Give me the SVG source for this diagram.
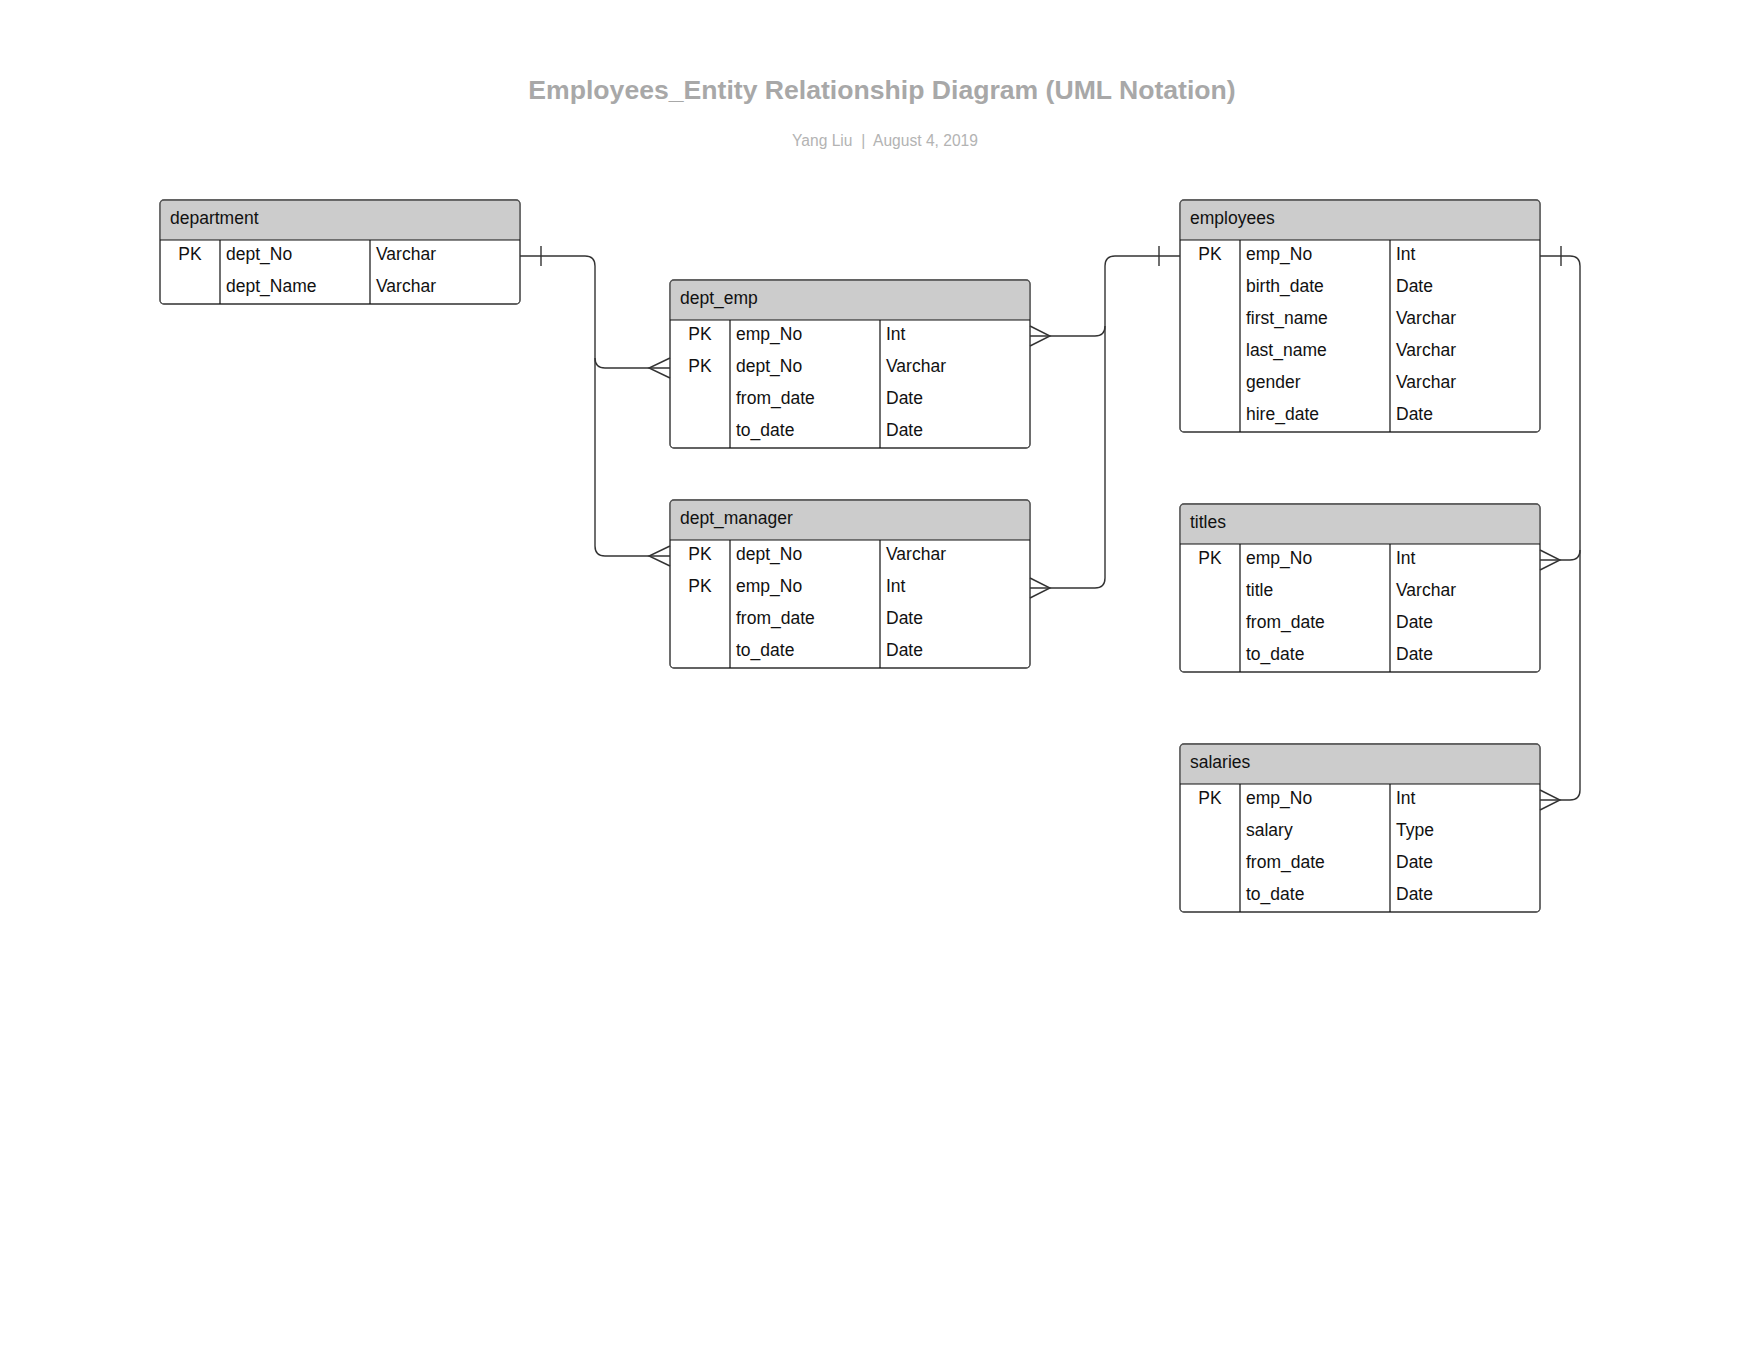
<svg xmlns="http://www.w3.org/2000/svg" width="1760" height="1360" viewBox="0 0 1760 1360">
<style>
.bg{fill:#ffffff}
.title{font-family:"Liberation Sans",Arial,sans-serif;font-size:26.6px;font-weight:bold;fill:#a8a8a8}
.sub{font-family:"Liberation Sans",Arial,sans-serif;font-size:15.6px;fill:#b3b3b3}
.body{fill:#ffffff;stroke:#5a5a5a;stroke-width:1.3}
.head{fill:#cccccc;stroke:none}
.sep{stroke:#111111;stroke-width:1.2;fill:none}
.t{font-family:"Liberation Sans",Arial,sans-serif;font-size:17.5px;fill:#111111}
.pk{text-anchor:middle}
.conn path{fill:none;stroke:#333333;stroke-width:1.4}
</style>
<rect class="bg" x="0" y="0" width="1760" height="1360"/>
<text class="title" x="882" y="99" text-anchor="middle">Employees_Entity Relationship Diagram (UML Notation)</text>
<text class="sub" x="885" y="146" text-anchor="middle" xml:space="preserve">Yang Liu  |  August 4, 2019</text>

<g id="department">
<rect class="body" x="160" y="200" width="360" height="104" rx="4"/>
<path class="head" d="M160.7,240 V204 Q160.7,200.7 164,200.7 H516 Q519.3,200.7 519.3,204 V240 Z"/>
<rect x="160" y="200" width="360" height="104" rx="4" fill="none" stroke="#5a5a5a" stroke-width="1.3"/>
<path class="sep" d="M160,240 H520 M220,240 V304 M370,240 V304"/>
<text class="t" x="170" y="224">department</text>
<text class="t pk" x="190" y="260">PK</text><text class="t" x="226" y="260">dept_No</text><text class="t" x="376" y="260">Varchar</text>
<text class="t" x="226" y="292">dept_Name</text><text class="t" x="376" y="292">Varchar</text>
</g>

<g id="dept_emp">
<rect class="body" x="670" y="280" width="360" height="168" rx="4"/>
<path class="head" d="M670.7,320 V284 Q670.7,280.7 674,280.7 H1026 Q1029.3,280.7 1029.3,284 V320 Z"/>
<rect x="670" y="280" width="360" height="168" rx="4" fill="none" stroke="#5a5a5a" stroke-width="1.3"/>
<path class="sep" d="M670,320 H1030 M730,320 V448 M880,320 V448"/>
<text class="t" x="680" y="304">dept_emp</text>
<text class="t pk" x="700" y="340">PK</text><text class="t" x="736" y="340">emp_No</text><text class="t" x="886" y="340">Int</text>
<text class="t pk" x="700" y="372">PK</text><text class="t" x="736" y="372">dept_No</text><text class="t" x="886" y="372">Varchar</text>
<text class="t" x="736" y="404">from_date</text><text class="t" x="886" y="404">Date</text>
<text class="t" x="736" y="436">to_date</text><text class="t" x="886" y="436">Date</text>
</g>

<g id="dept_manager">
<rect class="body" x="670" y="500" width="360" height="168" rx="4"/>
<path class="head" d="M670.7,540 V504 Q670.7,500.7 674,500.7 H1026 Q1029.3,500.7 1029.3,504 V540 Z"/>
<rect x="670" y="500" width="360" height="168" rx="4" fill="none" stroke="#5a5a5a" stroke-width="1.3"/>
<path class="sep" d="M670,540 H1030 M730,540 V668 M880,540 V668"/>
<text class="t" x="680" y="524">dept_manager</text>
<text class="t pk" x="700" y="560">PK</text><text class="t" x="736" y="560">dept_No</text><text class="t" x="886" y="560">Varchar</text>
<text class="t pk" x="700" y="592">PK</text><text class="t" x="736" y="592">emp_No</text><text class="t" x="886" y="592">Int</text>
<text class="t" x="736" y="624">from_date</text><text class="t" x="886" y="624">Date</text>
<text class="t" x="736" y="656">to_date</text><text class="t" x="886" y="656">Date</text>
</g>

<g id="employees">
<rect class="body" x="1180" y="200" width="360" height="232" rx="4"/>
<path class="head" d="M1180.7,240 V204 Q1180.7,200.7 1184,200.7 H1536 Q1539.3,200.7 1539.3,204 V240 Z"/>
<rect x="1180" y="200" width="360" height="232" rx="4" fill="none" stroke="#5a5a5a" stroke-width="1.3"/>
<path class="sep" d="M1180,240 H1540 M1240,240 V432 M1390,240 V432"/>
<text class="t" x="1190" y="224">employees</text>
<text class="t pk" x="1210" y="260">PK</text><text class="t" x="1246" y="260">emp_No</text><text class="t" x="1396" y="260">Int</text>
<text class="t" x="1246" y="292">birth_date</text><text class="t" x="1396" y="292">Date</text>
<text class="t" x="1246" y="324">first_name</text><text class="t" x="1396" y="324">Varchar</text>
<text class="t" x="1246" y="356">last_name</text><text class="t" x="1396" y="356">Varchar</text>
<text class="t" x="1246" y="388">gender</text><text class="t" x="1396" y="388">Varchar</text>
<text class="t" x="1246" y="420">hire_date</text><text class="t" x="1396" y="420">Date</text>
</g>

<g id="titles">
<rect class="body" x="1180" y="504" width="360" height="168" rx="4"/>
<path class="head" d="M1180.7,544 V508 Q1180.7,504.7 1184,504.7 H1536 Q1539.3,504.7 1539.3,508 V544 Z"/>
<rect x="1180" y="504" width="360" height="168" rx="4" fill="none" stroke="#5a5a5a" stroke-width="1.3"/>
<path class="sep" d="M1180,544 H1540 M1240,544 V672 M1390,544 V672"/>
<text class="t" x="1190" y="528">titles</text>
<text class="t pk" x="1210" y="564">PK</text><text class="t" x="1246" y="564">emp_No</text><text class="t" x="1396" y="564">Int</text>
<text class="t" x="1246" y="596">title</text><text class="t" x="1396" y="596">Varchar</text>
<text class="t" x="1246" y="628">from_date</text><text class="t" x="1396" y="628">Date</text>
<text class="t" x="1246" y="660">to_date</text><text class="t" x="1396" y="660">Date</text>
</g>

<g id="salaries">
<rect class="body" x="1180" y="744" width="360" height="168" rx="4"/>
<path class="head" d="M1180.7,784 V748 Q1180.7,744.7 1184,744.7 H1536 Q1539.3,744.7 1539.3,748 V784 Z"/>
<rect x="1180" y="744" width="360" height="168" rx="4" fill="none" stroke="#5a5a5a" stroke-width="1.3"/>
<path class="sep" d="M1180,784 H1540 M1240,784 V912 M1390,784 V912"/>
<text class="t" x="1190" y="768">salaries</text>
<text class="t pk" x="1210" y="804">PK</text><text class="t" x="1246" y="804">emp_No</text><text class="t" x="1396" y="804">Int</text>
<text class="t" x="1246" y="836">salary</text><text class="t" x="1396" y="836">Type</text>
<text class="t" x="1246" y="868">from_date</text><text class="t" x="1396" y="868">Date</text>
<text class="t" x="1246" y="900">to_date</text><text class="t" x="1396" y="900">Date</text>
</g>

<g id="connectors" class="conn">
<path d="M520,256 H585 Q595,256 595,266 V358 Q595,368 605,368 H670"/>
<path d="M595,358 V546 Q595,556 605,556 H670"/>
<path d="M541,246 V266"/>
<path d="M670,358 L649,368 L670,378"/>
<path d="M670,546 L649,556 L670,566"/>

<path d="M1180,256 H1115 Q1105,256 1105,266 V326 Q1105,336 1095,336 H1030"/>
<path d="M1105,326 V578 Q1105,588 1095,588 H1030"/>
<path d="M1159,246 V266"/>
<path d="M1030,326 L1050,336 L1030,346"/>
<path d="M1030,578 L1050,588 L1030,598"/>

<path d="M1540,256 H1570 Q1580,256 1580,266 V550 Q1580,560 1570,560 H1540"/>
<path d="M1580,550 V790 Q1580,800 1570,800 H1540"/>
<path d="M1561,246 V266"/>
<path d="M1540,550 L1560,560 L1540,570"/>
<path d="M1540,790 L1560,800 L1540,810"/>
</g>
</svg>
